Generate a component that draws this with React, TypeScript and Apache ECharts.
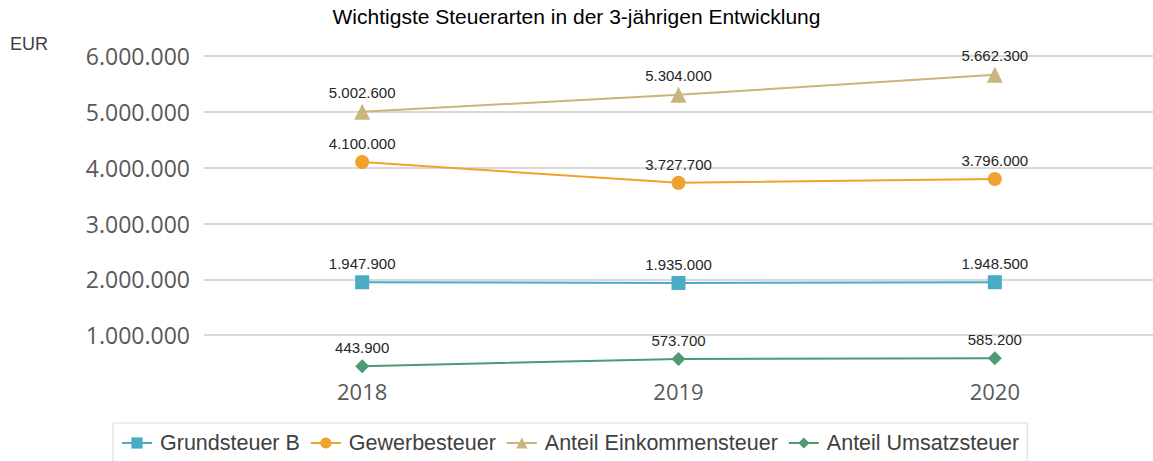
import React, { useEffect, useRef } from "react";
import * as echarts from "echarts";

const years = ["2018", "2019", "2020"];
const grundsteuerB = [1947900, 1935000, 1948500];
const gewerbesteuer = [4100000, 3727700, 3796000];
const einkommensteuer = [5002600, 5304000, 5662300];
const umsatzsteuer = [443900, 573700, 585200];

const fmt = (v: number) => String(Math.round(v)).replace(/\B(?=(\d{3})+(?!\d))/g, ".");

export default function App() {
  const ref = useRef<HTMLDivElement>(null);
  useEffect(() => {
    const chart = echarts.init(ref.current!, null, { renderer: "svg" });
    const label = {
      show: true,
      position: "top" as const,
      distance: 4,
      fontFamily: "Liberation Sans",
      fontSize: 15,
      color: "#262626",
      formatter: (p: any) => fmt(p.value),
    };
    const mk = (name: string, data: number[], color: string, symbol: string, size: number) => ({
      name,
      type: "line",
      data,
      symbol,
      symbolSize: size,
      lineStyle: { color, width: 2 },
      itemStyle: { color },
      label,
    });
    chart.setOption({
      animation: false,
      title: {
        text: "Wichtigste Steuerarten in der 3-jährigen Entwicklung",
        left: "center",
        top: 6,
        padding: 0,
        textStyle: { fontFamily: "Liberation Sans", fontSize: 21, fontWeight: "normal", color: "#000" },
      },
      graphic: [
        {
          type: "text",
          left: 10,
          top: 35,
          style: { text: "EUR", fontFamily: "Liberation Sans", fontSize: 18, fill: "#404040" },
        },
      ],
      legend: {
        bottom: -2,
        left: 113,
        itemGap: 10,
        itemWidth: 30,
        itemHeight: 14,
        padding: [9, 8, 9, 8],
        borderColor: "#d9d9d9",
        borderWidth: 1,
        textStyle: { fontFamily: "Liberation Sans", fontSize: 21.5, color: "#404040", padding: [0, 0, 0, 3] },
      },
      grid: { left: 204, right: 0, top: 56, bottom: 70 },
      xAxis: {
        type: "category",
        data: years,
        boundaryGap: true,
        axisLine: { show: false },
        axisTick: { show: false },
        axisLabel: { fontFamily: "Open Sans", fontSize: 22, color: "#595959", margin: -11 },
      },
      yAxis: {
        type: "value",
        min: 0,
        max: 6000000,
        interval: 1000000,
        axisLine: { show: false },
        axisTick: { show: false },
        axisLabel: {
          fontFamily: "Open Sans",
          fontSize: 23,
          color: "#595959",
          margin: 14,
          formatter: (v: number) => (v === 0 ? "" : fmt(v)),
        },
        splitLine: {
          lineStyle: {
            color: ["transparent", "#d9d9d9", "#d9d9d9", "#d9d9d9", "#d9d9d9", "#d9d9d9", "#d9d9d9"],
            width: 2,
          },
        },
      },
      series: [
        mk("Grundsteuer B", grundsteuerB, "#4bacc6", "rect", 14),
        mk("Gewerbesteuer", gewerbesteuer, "#f0a22e", "circle", 14),
        mk("Anteil Einkommensteuer", einkommensteuer, "#c8b67e", "triangle", 16),
        mk("Anteil Umsatzsteuer", umsatzsteuer, "#4e9a72", "diamond", 14),
      ],
    });
    return () => chart.dispose();
  }, []);
  return <div ref={ref} style={{ width: 1153, height: 461, position: "absolute", left: 0, top: 0 }} />;
}
